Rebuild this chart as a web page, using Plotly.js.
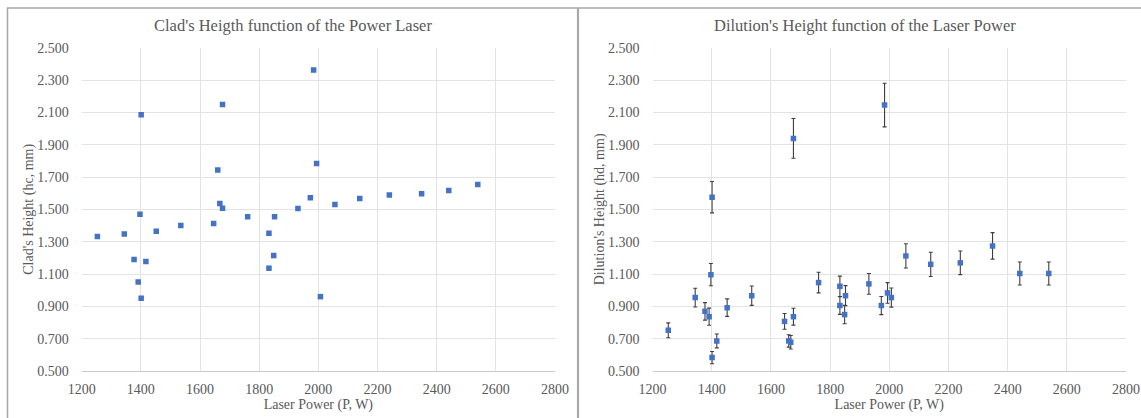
<!DOCTYPE html>
<html>
<head>
<meta charset="utf-8">
<script src="https://cdn.plot.ly/plotly-3.0.1.min.js"></script>
<style>
html,body{margin:0;padding:0;background:#fff;}
#chart{width:1141px;height:418px;}
</style>
</head>
<body>
<div id="chart"></div>
<script>
// Laser power (W), shared by both charts
const laserPower = [1253, 1344, 1377, 1391, 1397, 1401, 1401, 1417, 1452, 1535, 1646, 1660, 1667, 1676, 1676, 1761, 1833, 1833, 1849, 1852, 1931, 1973, 1984, 1994, 2007, 2056, 2140, 2240, 2349, 2441, 2539];
// Clad's height (hc, mm)
const cladHeight = [1.332, 1.348, 1.189, 1.051, 1.470, 2.085, 0.950, 1.177, 1.365, 1.400, 1.412, 1.743, 1.536, 1.507, 2.149, 1.454, 1.352, 1.136, 1.214, 1.454, 1.505, 1.571, 2.362, 1.784, 0.960, 1.530, 1.567, 1.588, 1.596, 1.617, 1.654];
// Dilution's height (hd, mm)
const dilutionHeight = [0.752, 0.954, 0.869, 0.836, 1.096, 1.575, 0.583, 0.686, 0.892, 0.966, 0.807, 0.686, 0.678, 0.836, 1.939, 1.047, 1.024, 0.905, 0.849, 0.966, 1.039, 0.905, 2.145, 0.983, 0.954, 1.212, 1.160, 1.169, 1.274, 1.103, 1.103];
// Error bar half-length for dilution's height (mm)
const dilutionErr = [0.046, 0.058, 0.054, 0.053, 0.069, 0.097, 0.038, 0.043, 0.054, 0.060, 0.049, 0.038, 0.042, 0.052, 0.123, 0.064, 0.063, 0.055, 0.057, 0.062, 0.064, 0.056, 0.135, 0.064, 0.059, 0.075, 0.075, 0.073, 0.082, 0.071, 0.071];

const titleLeft = "Clad's Heigth function of the Power Laser";
const titleRight = "Dilution's Height function of the Laser Power";
const xTitle = "Laser Power (P, W)";
const yTitleLeft = "Clad's Height (hc, mm)";
const yTitleRight = "Dilution's Height (hd, mm)";

const W = 1141, H = 418;
const FONT = "Liberation Serif, Times New Roman, serif";
const TXT = "#595959";
const GRID = "#e3e3e3";
const BLUE = "#4472c4";

const px = v => v / W;
const py = v => 1 - v / H;

const traces = [
  {
    x: laserPower, y: cladHeight, type: 'scatter', mode: 'markers',
    xaxis: 'x', yaxis: 'y',
    marker: {symbol: 'square', size: 5.5, color: BLUE},
    hoverinfo: 'x+y', showlegend: false
  },
  {
    x: laserPower, y: dilutionHeight, type: 'scatter', mode: 'markers',
    xaxis: 'x2', yaxis: 'y2',
    marker: {symbol: 'square', size: 5.5, color: BLUE},
    error_y: {type: 'data', array: dilutionErr, visible: true, color: '#3f3f3f', thickness: 1.1, width: 2},
    hoverinfo: 'x+y', showlegend: false
  }
];

function xAxis(domain, anchor) {
  return {
    domain: domain, anchor: anchor, range: [1200, 2800], dtick: 200, tick0: 1200,
    showgrid: true, gridcolor: GRID, gridwidth: 1, zeroline: false,
    showline: true, linecolor: '#c9c9c9', linewidth: 1,
    ticks: '', ticklabelstandoff: 5,
    tickfont: {family: FONT, size: 14, color: TXT},
    title: {text: xTitle, font: {family: FONT, size: 14, color: TXT}, standoff: 3},
    fixedrange: true
  };
}
function yAxis(anchor, title) {
  return {
    domain: [py(371), py(47.7)], anchor: anchor, range: [0.5, 2.5], dtick: 0.2, tick0: 0.5,
    tickformat: '.3f',
    showgrid: true, gridcolor: GRID, gridwidth: 1, zeroline: false,
    showline: false, ticks: '', ticklabelstandoff: 12,
    tickfont: {family: FONT, size: 14, color: TXT},
    title: {text: title, font: {family: FONT, size: 14, color: TXT}, standoff: 0},
    fixedrange: true
  };
}

const layout = {
  width: W, height: H,
  margin: {l: 0, r: 0, t: 0, b: 0},
  paper_bgcolor: '#ffffff', plot_bgcolor: '#ffffff',
  xaxis: xAxis([px(81.7), px(555)], 'y'),
  yaxis: yAxis('x', yTitleLeft),
  xaxis2: xAxis([px(652.6), px(1126)], 'y2'),
  yaxis2: yAxis('x2', yTitleRight),
  annotations: [
    {text: titleLeft, xref: 'paper', yref: 'paper', x: px(293), y: py(25), xanchor: 'center', yanchor: 'middle', showarrow: false,
     font: {family: FONT, size: 16.5, color: TXT}},
    {text: titleRight, xref: 'paper', yref: 'paper', x: px(864.5), y: py(25), xanchor: 'center', yanchor: 'middle', showarrow: false,
     font: {family: FONT, size: 16.5, color: TXT}}
  ],
  shapes: [
    {type: 'line', xref: 'paper', yref: 'paper', x0: px(7), x1: 1, y0: py(8), y1: py(8), line: {color: '#a8a8a8', width: 1.5}},
    {type: 'line', xref: 'paper', yref: 'paper', x0: px(7.5), x1: px(7.5), y0: py(8), y1: 0, line: {color: '#a8a8a8', width: 1.5}},
    {type: 'line', xref: 'paper', yref: 'paper', x0: px(578), x1: px(578), y0: py(8), y1: 0, line: {color: '#a8a8a8', width: 2.2}}
  ]
};

Plotly.newPlot('chart', traces, layout, {displayModeBar: false, staticPlot: true});
</script>
</body>
</html>
